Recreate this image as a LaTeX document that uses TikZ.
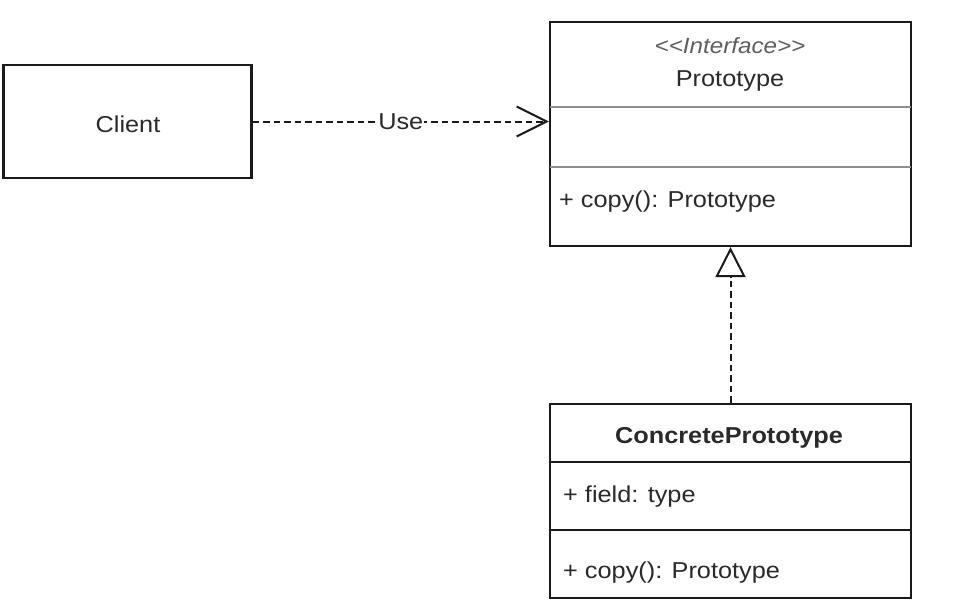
\documentclass[tikz,border=0pt]{standalone}
\usepackage{fontspec}
\setmainfont{Liberation Sans}[FakeStretch=1.1,Ligatures=NoCommon]
\usetikzlibrary{arrows.meta}
\definecolor{txt}{HTML}{2A2A2A}
\definecolor{ln}{HTML}{1A1A1A}
\definecolor{div}{HTML}{8F8F8F}
\begin{document}
\begin{tikzpicture}[x=1pt,y=-1pt,
  box/.style={draw=ln, line width=2.2pt, fill=white, inner sep=0pt},
  lbl/.style={text=txt, inner sep=0pt, font=\fontsize{23}{27}\selectfont},
  dashline/.style={draw=ln, line width=2pt, dash pattern=on 6.5pt off 4pt},
  sepline/.style={line width=1.8pt}
]
\useasboundingbox (0,0) rectangle (953,614);
% Client
\node[box, minimum width=248pt, minimum height=113pt] (client) at (127.5,121.5) {};
\node[lbl, anchor=base] (clientt) at (128,132) {Client};
% Prototype
\node[box, minimum width=361pt, minimum height=224pt] (proto) at (730.5,134) {};
\node[lbl, anchor=base, font=\fontsize{22}{26}\selectfont\itshape, text=txt!75] (stereo) at (730,53) {{<}{<}Interface{>}{>}};
\node[lbl, anchor=base] (protot) at (730,86) {Prototype};
\coordinate (pd1l) at (550,107); \coordinate (pd1r) at (911,107);
\coordinate (pd2l) at (550,167); \coordinate (pd2r) at (911,167);
\draw[sepline, draw=div] (pd1l) -- (pd1r);
\draw[sepline, draw=div] (pd2l) -- (pd2r);
\node[lbl, anchor=base west] (protom) at (559,207) {+ copy(): Prototype};
% ConcretePrototype
\node[box, minimum width=361pt, minimum height=194pt] (conc) at (730.5,501) {};
\node[lbl, anchor=base, font=\fontsize{23}{27}\selectfont\bfseries] (conct) at (729,443) {ConcretePrototype};
\coordinate (cd1l) at (550,462); \coordinate (cd1r) at (911,462);
\coordinate (cd2l) at (550,530); \coordinate (cd2r) at (911,530);
\draw[sepline, draw=ln] (cd1l) -- (cd1r);
\draw[sepline, draw=ln] (cd2l) -- (cd2r);
\node[lbl, anchor=base west] (concf) at (563,502) {+ field: type};
\node[lbl, anchor=base west] (concm) at (563,578) {+ copy(): Prototype};
% Use dependency
\draw[dashline, -{Straight Barb[length=30pt,width=30pt,line width=2pt]}] (client.east) -- (client.east -| proto.west)
  node[pos=0.5, lbl, fill=white, inner xsep=1pt, inner ysep=2pt] (use) {Use};
% Realization
\draw[dashline, -{Triangle[open,fill=white,length=30pt,width=30pt,line width=2pt]}] (conc.north) -- (proto.south);
\end{tikzpicture}
\end{document}
